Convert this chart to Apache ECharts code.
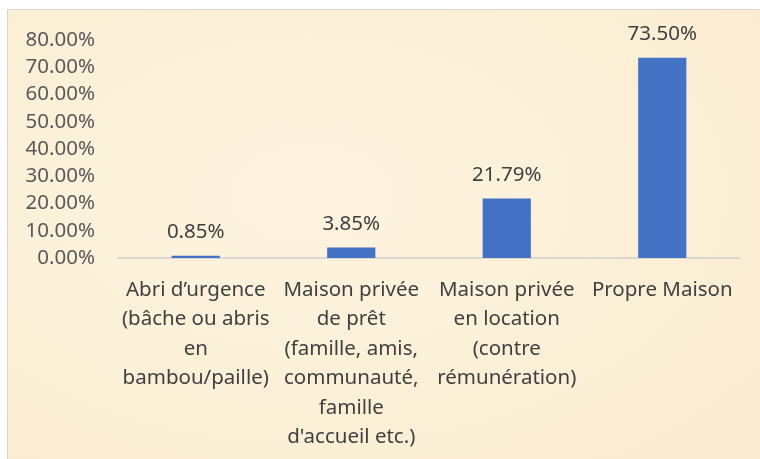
<!DOCTYPE html>
<html>
<head>
<meta charset="utf-8">
<script src="https://cdn.jsdelivr.net/npm/echarts@6/dist/echarts.min.js"></script>
<style>
  html, body { margin: 0; padding: 0; background: #fff; }
  #frame {
    position: absolute; left: 7px; top: 9px; width: 760px; height: 459px;
    border-left: 1.5px solid #d6d6d6; border-top: 1.5px solid #d6d6d6;
    background: radial-gradient(ellipse at 40% 40%, #fdf3df 0%, #fbefd6 60%, #f9ebcf 100%);
  }
  #chart { position: absolute; left: 0; top: 0; width: 760px; height: 459px; }
</style>
</head>
<body>
<div id="frame"></div>
<div id="chart"></div>
<script>
// categories and values (percent)
var categories = [
    "Abri d’urgence\n(bâche ou abris\nen\nbambou/paille)",
    "Maison privée\nde prêt\n(famille, amis,\ncommunauté,\nfamille\nd'accueil etc.)",
    "Maison privée\nen location\n(contre\nrémunération)",
    "Propre Maison"
];
var shares = [0.85, 3.85, 21.79, 73.50];

var chart = echarts.init(document.getElementById('chart'));
var font = "'Noto Sans', sans-serif";

var option = {
    backgroundColor: 'transparent',
    animation: false,
    grid: {
        left: 118,
        right: 20,
        top: 40,
        bottom: 201
    },
    xAxis: {
        type: 'category',
        data: categories,
        axisLine: { lineStyle: { color: '#d0d0d0', width: 1.5 } },
        axisTick: { show: false },
        axisLabel: {
            interval: 0,
            color: '#404040',
            fontFamily: font,
            fontSize: 20.5,
            lineHeight: 29.5,
            margin: 17,
            verticalAlign: 'top'
        }
    },
    yAxis: {
        type: 'value',
        min: 0,
        max: 80,
        interval: 10,
        splitLine: { show: false },
        axisLine: { show: false },
        axisTick: { show: false },
        axisLabel: {
            color: '#595959',
            fontFamily: font,
            fontSize: 20.5,
            margin: 23,
            formatter: function (v) { return v.toFixed(2) + '%'; }
        }
    },
    series: [
        {
            type: 'bar',
            data: shares,
            barWidth: '31%',
            itemStyle: { color: '#4472c4' },
            label: {
                show: true,
                position: 'top',
                distance: 13,
                color: '#404040',
                fontFamily: font,
                fontSize: 20.5,
                formatter: function (p) { return p.value.toFixed(2) + '%'; }
            }
        }
    ]
};

chart.setOption(option);
</script>
</body>
</html>
